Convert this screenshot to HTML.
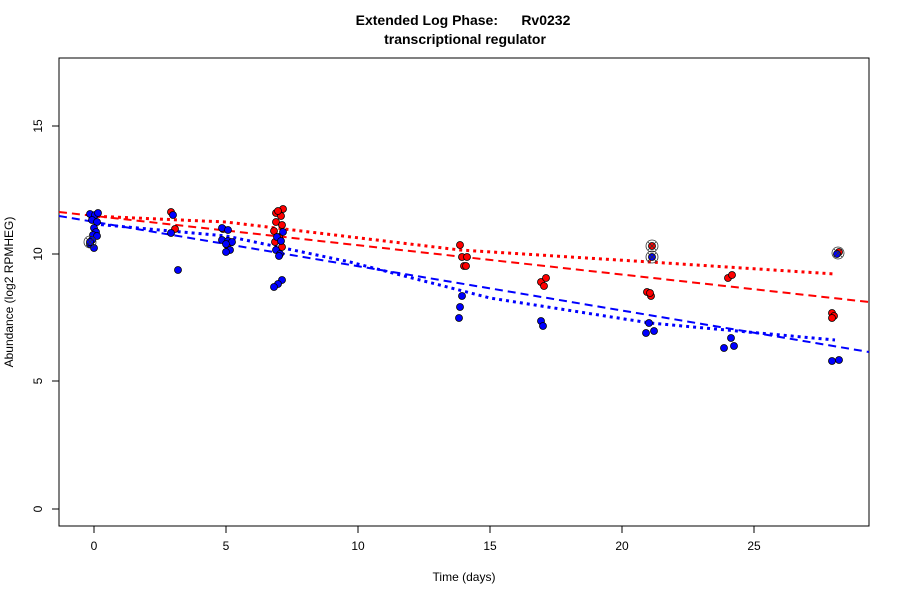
<!DOCTYPE html>
<html><head><style>body{margin:0;background:#fff}svg{display:block}</style></head><body>
<svg width="900" height="600" xmlns="http://www.w3.org/2000/svg" font-family="Liberation Sans, sans-serif">
<rect width="900" height="600" fill="#fff"/>
<text x="463" y="25" text-anchor="middle" font-size="14" font-weight="bold" xml:space="preserve">Extended Log Phase:      Rv0232</text>
<text x="465" y="44" text-anchor="middle" font-size="14" font-weight="bold">transcriptional regulator</text>
<rect x="59" y="58" width="810" height="468" fill="none" stroke="#000"/>
<g stroke="#000">
<line x1="94" y1="526" x2="94" y2="533"/><line x1="226" y1="526" x2="226" y2="533"/><line x1="358" y1="526" x2="358" y2="533"/><line x1="490" y1="526" x2="490" y2="533"/><line x1="622" y1="526" x2="622" y2="533"/><line x1="754" y1="526" x2="754" y2="533"/>
<line x1="52" y1="509" x2="59" y2="509"/><line x1="52" y1="381" x2="59" y2="381"/><line x1="52" y1="254" x2="59" y2="254"/><line x1="52" y1="126" x2="59" y2="126"/>
</g>
<g font-size="12" text-anchor="middle">
<text x="94" y="550">0</text><text x="226" y="550">5</text><text x="358" y="550">10</text><text x="490" y="550">15</text><text x="622" y="550">20</text><text x="754" y="550">25</text>
<text x="464" y="581">Time  (days)</text>
</g>
<g font-size="12" text-anchor="middle">
<text transform="translate(42,509) rotate(-90)">0</text>
<text transform="translate(42,381) rotate(-90)">5</text>
<text transform="translate(42,254) rotate(-90)">10</text>
<text transform="translate(42,126) rotate(-90)">15</text>
<text transform="translate(13,292) rotate(-90)">Abundance  (log2 RPMHEG)</text>
</g>
<g fill="none" stroke-width="2">
<line x1="59" y1="212" x2="869" y2="302" stroke="#f00" stroke-dasharray="8,5"/>
<line x1="59" y1="216" x2="869" y2="352" stroke="#00f" stroke-dasharray="8,5"/>
<polyline points="90,216 226,222 460,250 650,262 835,274" stroke="#f00" stroke-dasharray="3,4" stroke-width="3"/>
<polyline points="94,224 226,236 350,262 490,298 650,323 835,340" stroke="#00f" stroke-dasharray="3,4" stroke-width="3"/>
</g>
<g stroke="#000" stroke-width="0.8">
<g fill="#f00">
<circle cx="171" cy="212" r="3.5"/><circle cx="175" cy="229" r="3.5"/><circle cx="223" cy="229" r="3.5"/><circle cx="227" cy="245" r="3.5"/>
<circle cx="276" cy="213" r="3.5"/><circle cx="283" cy="209" r="3.5"/><circle cx="281" cy="216" r="3.5"/><circle cx="276" cy="222" r="3.5"/><circle cx="282" cy="225" r="3.5"/><circle cx="274" cy="231" r="3.5"/><circle cx="279" cy="237" r="3.5"/><circle cx="275" cy="242" r="3.5"/><circle cx="282" cy="247" r="3.5"/><circle cx="278" cy="211" r="3.5"/>
<circle cx="460" cy="245" r="3.5"/><circle cx="462" cy="257" r="3.5"/><circle cx="467" cy="257" r="3.5"/><circle cx="464" cy="266" r="3.5"/><circle cx="466" cy="266" r="3.5"/>
<circle cx="541" cy="282" r="3.5"/><circle cx="544" cy="286" r="3.5"/><circle cx="546" cy="278" r="3.5"/>
<circle cx="647" cy="292" r="3.5"/><circle cx="651" cy="296" r="3.5"/><circle cx="650" cy="293" r="3.5"/>
<circle cx="728" cy="278" r="3.5"/><circle cx="732" cy="275" r="3.5"/>
<circle cx="832" cy="313" r="3.5"/><circle cx="834" cy="316" r="3.5"/><circle cx="832" cy="318" r="3.5"/>
<circle cx="652" cy="246" r="3.5"/><circle cx="839" cy="252" r="3.5"/>
</g>
<g fill="#00f">
<circle cx="90" cy="214" r="3.5"/><circle cx="95" cy="215" r="3.5"/><circle cx="98" cy="213" r="3.5"/><circle cx="92" cy="220" r="3.5"/><circle cx="97" cy="222" r="3.5"/><circle cx="94" cy="228" r="3.5"/><circle cx="96" cy="232" r="3.5"/><circle cx="93" cy="235" r="3.5"/><circle cx="97" cy="236" r="3.5"/><circle cx="92" cy="240" r="3.5"/><circle cx="90" cy="244" r="3.5"/><circle cx="94" cy="248" r="3.5"/>
<circle cx="173" cy="215" r="3.5"/><circle cx="171" cy="233" r="3.5"/><circle cx="178" cy="270" r="3.5"/>
<circle cx="222" cy="228" r="3.5"/><circle cx="228" cy="230" r="3.5"/><circle cx="222" cy="240" r="3.5"/><circle cx="228" cy="241" r="3.5"/><circle cx="232" cy="242" r="3.5"/><circle cx="226" cy="244" r="3.5"/><circle cx="230" cy="250" r="3.5"/><circle cx="226" cy="252" r="3.5"/>
<circle cx="276" cy="250" r="3.5"/><circle cx="280" cy="254" r="3.5"/><circle cx="283" cy="232" r="3.5"/><circle cx="277" cy="237" r="3.5"/><circle cx="281" cy="241" r="3.5"/><circle cx="279" cy="256" r="3.5"/><circle cx="282" cy="280" r="3.5"/><circle cx="278" cy="284" r="3.5"/><circle cx="274" cy="287" r="3.5"/>
<circle cx="462" cy="296" r="3.5"/><circle cx="460" cy="307" r="3.5"/><circle cx="459" cy="318" r="3.5"/>
<circle cx="541" cy="321" r="3.5"/><circle cx="543" cy="326" r="3.5"/>
<circle cx="649" cy="323" r="3.5"/><circle cx="646" cy="333" r="3.5"/><circle cx="654" cy="331" r="3.5"/>
<circle cx="731" cy="338" r="3.5"/><circle cx="724" cy="348" r="3.5"/><circle cx="734" cy="346" r="3.5"/>
<circle cx="832" cy="361" r="3.5"/><circle cx="839" cy="360" r="3.5"/>
<circle cx="90" cy="242" r="3.5"/><circle cx="652" cy="257" r="3.5"/><circle cx="837" cy="254" r="3.5"/>
</g>
<g fill="none" stroke="#333">
<circle cx="90" cy="242" r="6"/><path d="M86 238l8 8M94 238l-8 8"/>
<circle cx="652" cy="246" r="6"/><path d="M648 242l8 8M656 242l-8 8"/>
<circle cx="652" cy="257" r="6"/><path d="M648 253l8 8M656 253l-8 8"/>
<circle cx="838" cy="253" r="6"/><path d="M834 249l8 8M842 249l-8 8"/>
</g>
</g>
</svg>
</body></html>
